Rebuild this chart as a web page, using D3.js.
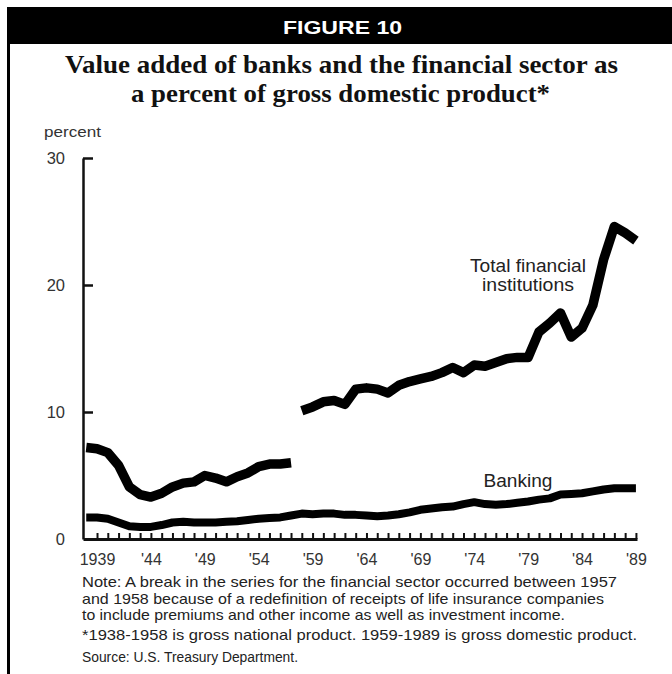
<!DOCTYPE html>
<html>
<head>
<meta charset="utf-8">
<script src="https://cdn.jsdelivr.net/npm/d3@7"></script>
<style>
  html, body { margin: 0; padding: 0; background: #fff; }
  svg { display: block; }
</style>
</head>
<body>
<svg id="chart" width="672" height="674"></svg>
<script>
// ---------- data ----------
const finYearsA = [1938,1939,1940,1941,1942,1943,1944,1945,1946,1947,1948,1949,1950,1951,1952,1953,1954,1955,1956,1957];
const finValuesA = [7.2,7.1,6.8,5.8,4.1,3.5,3.3,3.6,4.1,4.4,4.5,5.0,4.8,4.5,4.9,5.2,5.7,5.9,5.9,6.0];

const finYearsB = [1958,1959,1960,1961,1962,1963,1964,1965,1966,1967,1968,1969,1970,1971,1972,1973,1974,1975,1976,1977,1978,1979,1980,1981,1982,1983,1984,1985,1986,1987,1988,1989];
const finValuesB = [10.1,10.4,10.8,10.9,10.6,11.8,11.9,11.8,11.5,12.1,12.4,12.6,12.8,13.1,13.5,13.1,13.7,13.6,13.9,14.2,14.3,14.3,16.3,17.0,17.8,15.9,16.6,18.4,22.0,24.6,24.1,23.5];

const bankYears = [1938,1939,1940,1941,1942,1943,1944,1945,1946,1947,1948,1949,1950,1951,1952,1953,1954,1955,1956,1957,1958,1959,1960,1961,1962,1963,1964,1965,1966,1967,1968,1969,1970,1971,1972,1973,1974,1975,1976,1977,1978,1979,1980,1981,1982,1983,1984,1985,1986,1987,1988,1989];
const bankValues = [1.7,1.7,1.6,1.3,1.0,0.95,0.95,1.1,1.3,1.35,1.3,1.3,1.3,1.35,1.4,1.5,1.6,1.65,1.7,1.85,2.0,1.95,2.0,2.0,1.9,1.9,1.85,1.8,1.85,1.95,2.1,2.3,2.4,2.5,2.55,2.75,2.9,2.75,2.7,2.75,2.85,2.95,3.1,3.2,3.5,3.55,3.6,3.75,3.9,4.0,4.0,4.0];

const xTickYears = [1939,1940,1941,1942,1943,1944,1945,1946,1947,1948,1949,1950,1951,1952,1953,1954,1955,1956,1957,1958,1959,1960,1961,1962,1963,1964,1965,1966,1967,1968,1969,1970,1971,1972,1973,1974,1975,1976,1977,1978,1979,1980,1981,1982,1983,1984,1985,1986,1987,1988,1989];
const xLabelYears = [1939,1944,1949,1954,1959,1964,1969,1974,1979,1984,1989];
const xLabelTexts = ["1939","'44","'49","'54","'59","'64","'69","'74","'79","'84","'89"];
const yTicks = [0,10,20,30];

const headerText = "FIGURE 10";
const titleLines = ["Value added of banks and the financial sector as", "a percent of gross domestic product*"];
const yUnit = "percent";
const seriesLabelFin = ["Total financial", "institutions"];
const seriesLabelBank = "Banking";
const noteLines = [
  "Note: A break in the series for the financial sector occurred between 1957",
  "and 1958 because of a redefinition of receipts of life insurance companies",
  "to include premiums and other income as well as investment income."
];
const footLines = [
  "*1938-1958 is gross national product. 1959-1989 is gross domestic product.",
  "Source: U.S. Treasury Department."
];

// ---------- drawing ----------
const svg = d3.select("#chart");
const sans = "'Liberation Sans', Arial, Helvetica, sans-serif";
const serif = "'Liberation Serif', 'Times New Roman', serif";

svg.append("rect").attr("x",0).attr("y",0).attr("width",672).attr("height",674).attr("fill","#fff");

// header bar
svg.append("rect").attr("x",7).attr("y",7).attr("width",665).attr("height",37).attr("fill","#000");
svg.append("line").attr("x1",8.5).attr("x2",8.5).attr("y1",7).attr("y2",674)
  .attr("stroke","#000").attr("stroke-width",3);
svg.append("text").attr("x",283).attr("y",34)
  .attr("font-family",sans).attr("font-weight","bold").attr("font-size",18.5)
  .attr("textLength",119).attr("lengthAdjust","spacingAndGlyphs")
  .attr("fill","#fff").text(headerText);

// title
const titleX = [65, 131], titleW = [553, 419];
svg.selectAll("text.title").data(titleLines).enter().append("text")
  .attr("class","title")
  .attr("x",(d,i)=>titleX[i]).attr("y",(d,i)=>73 + i*29)
  .attr("textLength",(d,i)=>titleW[i]).attr("lengthAdjust","spacingAndGlyphs")
  .attr("font-family",serif).attr("font-weight","bold").attr("font-size",26)
  .attr("fill","#111").text(d=>d);

// scales
const x = d3.scaleLinear().domain([1937.7, 1989.1]).range([83, 637]);
const y = d3.scaleLinear().domain([0, 30]).range([539, 158]);

// y axis
const yAxis = d3.axisLeft(y).tickValues(yTicks).tickSizeInner(-10).tickSizeOuter(0).tickPadding(18)
  .tickFormat(d3.format("d"));
const gy = svg.append("g").attr("transform","translate(83,0)").call(yAxis);
gy.select(".domain").attr("stroke","#111").attr("stroke-width",2.5);
gy.selectAll(".tick line").attr("stroke","#111").attr("stroke-width",2.5)
  .attr("display",d=> d===0 ? "none" : null);
gy.selectAll(".tick text").attr("font-family",sans).attr("font-size",16.5).attr("fill","#333");

svg.append("text").attr("x",44).attr("y",137)
  .attr("font-family",sans).attr("font-size",15).attr("fill","#333")
  .attr("textLength",57).attr("lengthAdjust","spacingAndGlyphs").text(yUnit);

// x axis ticks
const xAxis = d3.axisBottom(x).tickValues(xTickYears).tickSizeInner(-6).tickSizeOuter(0)
  .tickFormat(()=> "");
const gx = svg.append("g").attr("transform","translate(0,539)").call(xAxis);
gx.select(".domain").attr("stroke","#111").attr("stroke-width",3);
gx.selectAll(".tick line").attr("stroke","#111").attr("stroke-width",2);

// x labels
const xLab = d3.axisBottom(x).tickValues(xLabelYears).tickSize(0).tickPadding(15)
  .tickFormat((d,i)=> xLabelTexts[i]);
const gxl = svg.append("g").attr("transform","translate(0,539)").call(xLab);
gxl.select(".domain").remove();
gxl.selectAll(".tick text").attr("font-family",sans).attr("font-size",16).attr("fill","#333");

// lines
const line = d3.line().x(d=>x(d[0])).y(d=>y(d[1])).curve(d3.curveLinear);
const finA = finYearsA.map((yr,i)=>[yr, finValuesA[i]]);
const finB = finYearsB.map((yr,i)=>[yr, finValuesB[i]]);
const bank = bankYears.map((yr,i)=>[yr, bankValues[i]]);

[[finA,9.5],[finB,9.5],[bank,8]].forEach(([data,w])=>{
  svg.append("path").datum(data).attr("d",line)
    .attr("fill","none").attr("stroke","#000").attr("stroke-width",w)
    .attr("stroke-linejoin","round").attr("stroke-linecap","butt");
});

// series labels
const finLabW = [116, 92];
svg.selectAll("text.flab").data(seriesLabelFin).enter().append("text")
  .attr("class","flab").attr("x",528).attr("y",(d,i)=>272 + i*19)
  .attr("text-anchor","middle").attr("font-family",sans).attr("font-size",17.5)
  .attr("textLength",(d,i)=>finLabW[i]).attr("lengthAdjust","spacingAndGlyphs")
  .attr("fill","#222").text(d=>d);
svg.append("text").attr("x",518).attr("y",487).attr("text-anchor","middle")
  .attr("font-family",sans).attr("font-size",17.5)
  .attr("textLength",69).attr("lengthAdjust","spacingAndGlyphs")
  .attr("fill","#222").text(seriesLabelBank);

// notes
const noteW = [535, 522, 483];
svg.selectAll("text.note").data(noteLines).enter().append("text")
  .attr("class","note").attr("x",82).attr("y",(d,i)=>587 + i*16.5)
  .attr("textLength",(d,i)=>noteW[i]).attr("lengthAdjust","spacingAndGlyphs")
  .attr("font-family",sans).attr("font-size",14.5).attr("fill","#222").text(d=>d);
const footW = [555, 216];
svg.selectAll("text.foot").data(footLines).enter().append("text")
  .attr("class","foot").attr("x",82).attr("y",(d,i)=>640 + i*22)
  .attr("textLength",(d,i)=>footW[i]).attr("lengthAdjust","spacingAndGlyphs")
  .attr("font-family",sans).attr("font-size",(d,i)=> i===0 ? 14.5 : 14).attr("fill","#222").text(d=>d);
</script>
</body>
</html>
